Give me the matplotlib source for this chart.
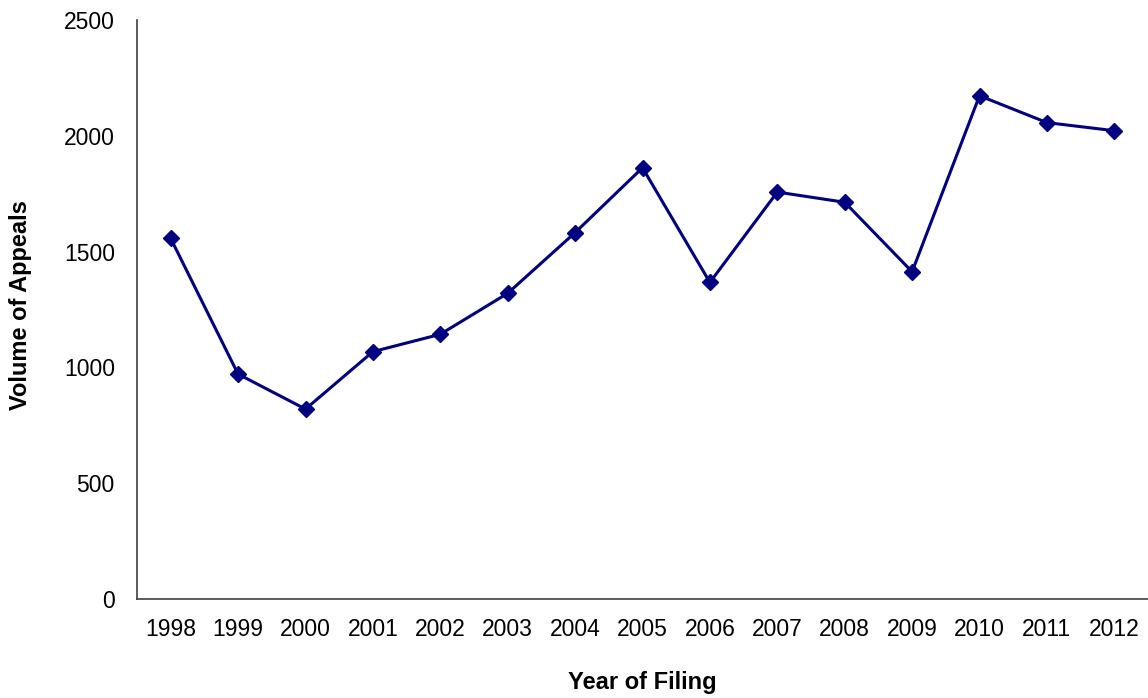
import numpy as np
import matplotlib.pyplot as plt

plt.rcParams['font.family'] = ['Liberation Sans', 'DejaVu Sans']

years = ['1998', '1999', '2000', '2001', '2002', '2003', '2004', '2005',
         '2006', '2007', '2008', '2009', '2010', '2011', '2012']
appeals = [1557, 971, 820, 1068, 1143, 1320, 1582, 1862,
           1367, 1757, 1713, 1413, 2173, 2057, 2022]

fig = plt.figure(figsize=(11.48, 6.98), dpi=100)
ax = fig.add_axes([137 / 1148, 1 - 599 / 698, 1 - 137 / 1148, (599 - 20) / 698])

x = np.arange(len(years))
ax.plot(x, appeals, color='#000080', linewidth=2.2, marker='D', markersize=8,
        markerfacecolor='#000080', markeredgecolor='#000080')

ax.set_xlim(-0.5, len(years) - 0.5)
ax.set_ylim(0, 2500)
ax.set_yticks([0, 500, 1000, 1500, 2000, 2500])
ax.set_xticks(x)
ax.set_xticklabels(years)
ax.tick_params(axis='both', length=0, labelsize=16.5, colors='black')
ax.tick_params(axis='y', pad=16)
ax.tick_params(axis='x', pad=14)

for side in ['top', 'right']:
    ax.spines[side].set_visible(False)
for side in ['left', 'bottom']:
    ax.spines[side].set_color('#404040')
    ax.spines[side].set_linewidth(1.2)

ax.set_xlabel('Year of Filing', fontsize=17, fontweight='bold', va='center')
ax.xaxis.set_label_coords(0.5, (599 - 682) / 579)
ax.set_ylabel('Volume of Appeals', fontsize=17, fontweight='bold', va='center')
ax.yaxis.set_label_coords((21 - 137) / 1011, (599 - 305) / 579)

fig.savefig('out.png', dpi=100)
